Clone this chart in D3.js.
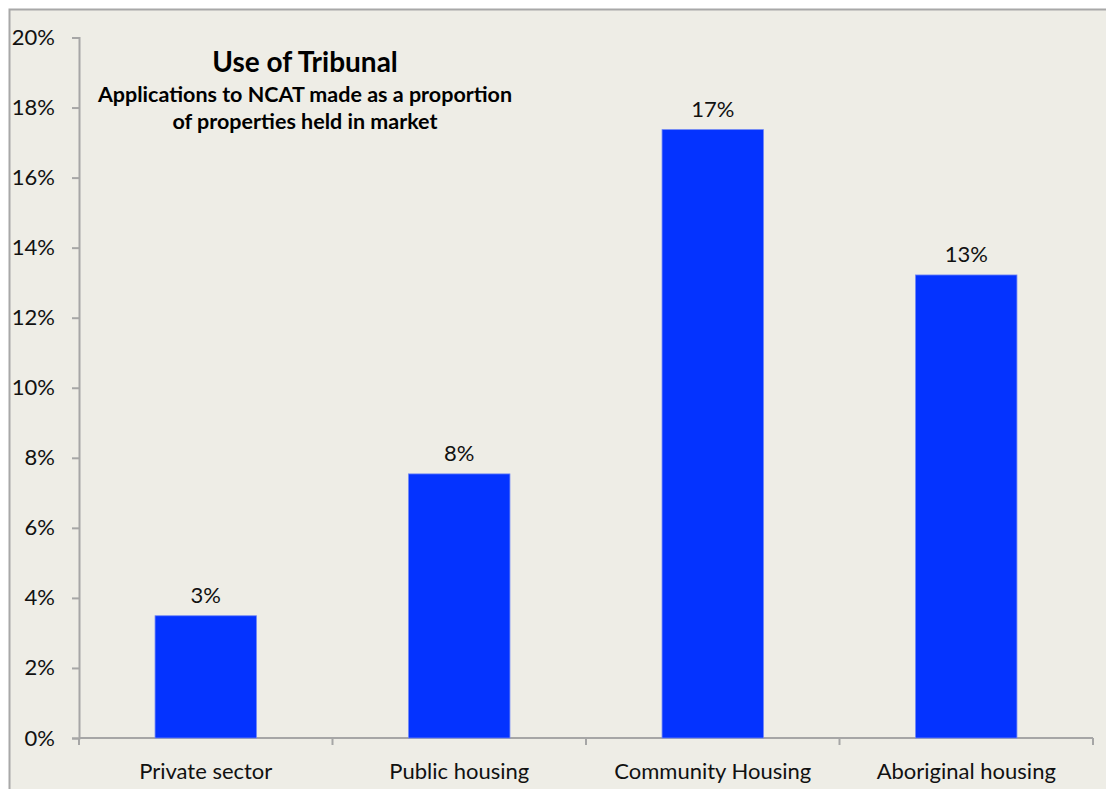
<!DOCTYPE html>
<html>
<head>
<meta charset="utf-8">
<script src="https://cdn.jsdelivr.net/npm/d3@7"></script>
<style>
  body { margin: 0; background: #ffffff; }
  svg { display: block; }
</style>
</head>
<body>
<div id="chart"></div>
<script>
// Chart data
const categories = ['Private sector', 'Public housing', 'Community Housing', 'Aboriginal housing'];
const values = [3.49, 7.54, 17.37, 13.22];
const valueLabels = ['3%', '8%', '17%', '13%'];
const yTicks = [0, 2, 4, 6, 8, 10, 12, 14, 16, 18, 20];

const W = 1106, H = 789;
const font = 'Lato, "Open Sans", sans-serif';

const svg = d3.select('#chart')
    .append('svg')
    .attr('width', W)
    .attr('height', H);

// Outer frame (extends past right/bottom edges)
svg.append('rect')
    .attr('x', 9.5).attr('y', 9.5)
    .attr('width', W).attr('height', H)
    .attr('fill', '#eeede6')
    .attr('stroke', '#a8a8a8')
    .attr('stroke-width', 2);

const plotLeft = 79, plotRight = 1093, plotTop = 37.5, plotBottom = 738;

const x = d3.scaleBand()
    .domain(categories)
    .range([plotLeft, plotRight])
    .paddingInner(0.6)
    .paddingOuter(0.3);

const y = d3.scaleLinear()
    .domain([0, 20])
    .range([plotBottom, plotTop]);

// Y axis
const yAxis = svg.append('g')
    .attr('transform', `translate(${plotLeft},0)`)
    .call(d3.axisLeft(y).tickValues(yTicks).tickFormat(d => d + '%').tickSize(7).tickPadding(17));
yAxis.select('.domain').attr('stroke', '#a6a6a6').attr('stroke-width', 2);
yAxis.selectAll('.tick line').attr('stroke', '#a6a6a6').attr('stroke-width', 2);
yAxis.selectAll('text')
    .style('font-family', font)
    .style('font-size', '22px')
    .attr('fill', '#111');

// X axis: boundary ticks between categories
const boundaries = d3.range(categories.length + 1).map(i => plotLeft + i * (plotRight - plotLeft) / categories.length);
svg.append('line')
    .attr('x1', plotLeft).attr('x2', plotRight)
    .attr('y1', plotBottom).attr('y2', plotBottom)
    .attr('stroke', '#a6a6a6').attr('stroke-width', 2);
svg.append('g')
    .selectAll('line')
    .data(boundaries)
    .enter()
    .append('line')
    .attr('x1', d => d).attr('x2', d => d)
    .attr('y1', plotBottom).attr('y2', plotBottom + 7)
    .attr('stroke', '#a6a6a6').attr('stroke-width', 2);

svg.append('g')
    .selectAll('text')
    .data(categories)
    .enter()
    .append('text')
    .attr('x', d => x(d) + x.bandwidth() / 2)
    .attr('y', 779)
    .attr('text-anchor', 'middle')
    .style('font-family', font)
    .style('font-size', '22px')
    .attr('fill', '#111')
    .text(d => d);

// Bars
svg.append('g')
    .selectAll('rect')
    .data(values)
    .enter()
    .append('rect')
    .attr('x', (d, i) => x(categories[i]))
    .attr('y', d => y(d))
    .attr('width', x.bandwidth())
    .attr('height', d => plotBottom - y(d))
    .attr('fill', '#0433ff')
    .attr('stroke', '#6f86f5')
    .attr('stroke-width', 0.8);

// Value labels
svg.append('g')
    .selectAll('text')
    .data(values)
    .enter()
    .append('text')
    .attr('x', (d, i) => x(categories[i]) + x.bandwidth() / 2)
    .attr('y', d => y(d) - 13)
    .attr('text-anchor', 'middle')
    .style('font-family', font)
    .style('font-size', '22px')
    .attr('fill', '#111')
    .text((d, i) => valueLabels[i]);

// Title
svg.append('text')
    .attr('x', 305).attr('y', 72)
    .attr('text-anchor', 'middle')
    .style('font-family', font)
    .style('font-size', '28px')
    .style('font-weight', '700')
    .attr('fill', '#000')
    .text('Use of Tribunal');

svg.append('text')
    .attr('x', 305).attr('y', 102)
    .attr('text-anchor', 'middle')
    .style('font-family', font)
    .style('font-size', '21.5px')
    .style('font-weight', '700')
    .attr('fill', '#000')
    .text('Applications to NCAT made as a proportion');

svg.append('text')
    .attr('x', 305).attr('y', 129)
    .attr('text-anchor', 'middle')
    .style('font-family', font)
    .style('font-size', '21.5px')
    .style('font-weight', '700')
    .attr('fill', '#000')
    .text('of properties held in market');
</script>
</body>
</html>
